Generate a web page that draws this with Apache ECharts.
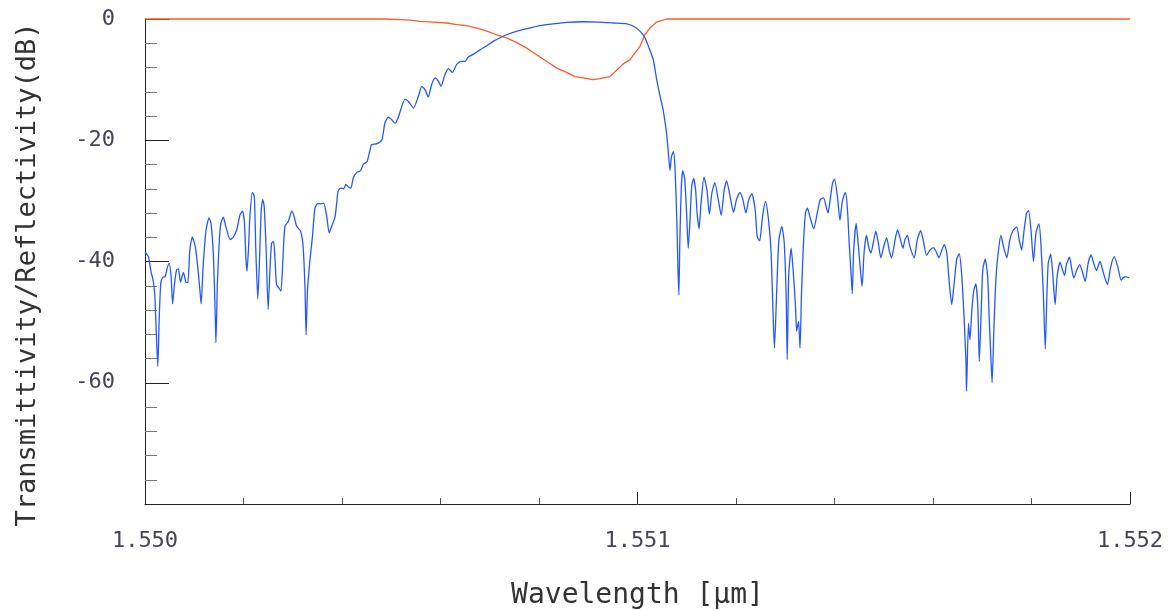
<!DOCTYPE html>
<html>
<head>
<meta charset="utf-8">
<script src="https://cdn.jsdelivr.net/npm/echarts@6/dist/echarts.min.js"></script>
<style>html,body{margin:0;padding:0;background:#fff}#c{width:1175px;height:610px}</style>
</head>
<body>
<div id="c"></div>
<script>
// Reflectivity (blue) — wavelength [µm] and level [dB]
const reflWavelength = [
1.550000,1.550007,1.550012,1.550017,1.550020,1.550024,1.550026,1.550029,1.550032,1.550036,
1.550041,1.550045,1.550049,1.550053,1.550056,1.550060,1.550064,1.550068,1.550072,1.550078,
1.550083,1.550087,1.550091,1.550096,1.550102,1.550107,1.550112,1.550114,1.550118,1.550124,
1.550130,1.550134,1.550139,1.550143,1.550144,1.550147,1.550151,1.550154,1.550159,1.550164,
1.550173,1.550179,1.550186,1.550193,1.550198,1.550202,1.550205,1.550207,1.550210,1.550213,
1.550218,1.550222,1.550225,1.550229,1.550232,1.550236,1.550239,1.550242,1.550246,1.550250,
1.550254,1.550257,1.550261,1.550264,1.550267,1.550272,1.550276,1.550280,1.550284,1.550291,
1.550298,1.550303,1.550308,1.550316,1.550321,1.550325,1.550327,1.550330,1.550335,1.550340,
1.550345,1.550351,1.550357,1.550363,1.550369,1.550374,1.550379,1.550386,1.550392,1.550397,
1.550403,1.550408,1.550413,1.550418,1.550423,1.550430,1.550438,1.550443,1.550451,1.550457,
1.550460,1.550470,1.550481,1.550487,1.550494,1.550501,1.550508,1.550514,1.550528,1.550535,
1.550545,1.550555,1.550562,1.550569,1.550575,1.550582,1.550589,1.550596,1.550601,1.550609,
1.550616,1.550624,1.550633,1.550641,1.550650,1.550656,1.550667,1.550680,1.550694,1.550707,
1.550721,1.550734,1.550755,1.550775,1.550802,1.550829,1.550856,1.550890,1.550924,1.550951,
1.550978,1.550992,1.551005,1.551015,1.551025,1.551032,1.551039,1.551046,1.551052,1.551059,
1.551063,1.551066,1.551069,1.551073,1.551076,1.551080,1.551082,1.551084,1.551086,1.551089,
1.551092,1.551096,1.551100,1.551103,1.551107,1.551110,1.551114,1.551118,1.551121,1.551125,
1.551129,1.551135,1.551141,1.551146,1.551151,1.551157,1.551164,1.551170,1.551176,1.551181,
1.551188,1.551195,1.551201,1.551208,1.551214,1.551220,1.551226,1.551232,1.551239,1.551243,
1.551248,1.551254,1.551260,1.551266,1.551271,1.551275,1.551278,1.551283,1.551287,1.551293,
1.551298,1.551302,1.551304,1.551307,1.551312,1.551316,1.551321,1.551323,1.551327,1.551330,
1.551333,1.551337,1.551341,1.551345,1.551351,1.551358,1.551365,1.551371,1.551378,1.551383,
1.551387,1.551392,1.551396,1.551400,1.551406,1.551411,1.551416,1.551422,1.551426,1.551430,
1.551434,1.551436,1.551439,1.551444,1.551448,1.551452,1.551456,1.551460,1.551465,1.551470,
1.551474,1.551479,1.551484,1.551489,1.551494,1.551501,1.551506,1.551511,1.551516,1.551523,
1.551528,1.551533,1.551539,1.551543,1.551548,1.551553,1.551562,1.551568,1.551575,1.551580,
1.551587,1.551594,1.551601,1.551606,1.551612,1.551618,1.551623,1.551628,1.551633,1.551638,
1.551643,1.551648,1.551653,1.551658,1.551663,1.551667,1.551668,1.551672,1.551675,1.551679,
1.551683,1.551687,1.551691,1.551694,1.551698,1.551701,1.551706,1.551711,1.551714,1.551718,
1.551720,1.551724,1.551728,1.551733,1.551738,1.551743,1.551750,1.551756,1.551763,1.551770,
1.551775,1.551780,1.551785,1.551790,1.551794,1.551799,1.551804,1.551809,1.551815,1.551819,
1.551824,1.551828,1.551831,1.551834,1.551839,1.551843,1.551848,1.551852,1.551858,1.551863,
1.551867,1.551871,1.551877,1.551882,1.551886,1.551892,1.551898,1.551904,1.551909,1.551915,
1.551921,1.551927,1.551932,1.551939,1.551946,1.551954,1.551961,1.551968,1.551975,1.551982,
1.551987,1.551991,1.551999,1.552000
];
const reflDb = [
-38.4,-39.2,-41.6,-43.3,-45.8,-54.0,-57.3,-49.1,-43.6,-42.6,
-42.5,-41.1,-40.3,-42.5,-47.0,-43.6,-41.4,-41.2,-43.4,-41.8,
-43.4,-43.5,-38.1,-36.0,-37.5,-40.8,-45.2,-47.0,-40.8,-34.8,
-32.8,-33.7,-39.2,-50.2,-53.4,-43.5,-36.4,-33.7,-32.7,-34.2,
-36.4,-36.0,-34.8,-32.3,-31.7,-33.7,-39.7,-41.6,-38.1,-32.6,
-28.6,-29.3,-38.1,-46.2,-40.8,-31.5,-29.8,-30.9,-38.1,-47.9,
-40.8,-37.0,-36.7,-39.7,-43.8,-44.4,-44.9,-39.7,-34.2,-33.4,
-31.7,-32.6,-34.2,-35.0,-37.5,-44.7,-52.1,-44.7,-39.7,-35.9,
-31.2,-30.4,-30.5,-30.4,-32.6,-35.3,-34.2,-32.6,-28.4,-27.9,
-28.0,-27.3,-27.7,-27.9,-26.2,-25.3,-25.0,-24.0,-23.5,-21.6,
-20.7,-20.6,-19.9,-17.2,-16.2,-16.6,-17.2,-16.3,-13.2,-13.6,
-14.7,-12.8,-11.1,-11.7,-12.9,-10.8,-9.7,-10.3,-11.1,-9.2,
-8.2,-8.8,-7.5,-7.0,-7.0,-6.3,-5.8,-5.1,-4.4,-3.7,
-3.1,-2.6,-2.0,-1.6,-1.1,-0.8,-0.55,-0.45,-0.5,-0.66,
-0.8,-1.2,-2.0,-3.1,-5.1,-6.7,-10.0,-12.8,-15.0,-18.8,
-22.4,-25.0,-22.7,-21.9,-24.3,-33.6,-40.8,-45.5,-36.4,-27.6,
-25.0,-26.5,-32.6,-37.8,-32.6,-27.6,-26.3,-28.2,-32.0,-34.6,
-30.4,-26.1,-28.2,-32.2,-28.7,-27.0,-29.8,-32.4,-28.2,-26.7,
-29.3,-31.9,-29.8,-28.6,-29.8,-32.0,-29.8,-28.8,-31.5,-35.9,
-36.6,-32.5,-30.1,-33.1,-38.1,-47.9,-54.3,-44.1,-36.5,-34.2,
-37.0,-46.3,-56.2,-42.5,-37.8,-41.4,-47.7,-51.5,-49.9,-54.3,
-45.3,-37.0,-32.0,-31.2,-32.9,-34.6,-32.0,-29.8,-29.5,-31.0,
-32.0,-29.3,-27.1,-26.4,-29.3,-33.2,-30.0,-28.6,-31.0,-37.2,
-42.5,-45.3,-38.1,-33.7,-37.0,-40.8,-44.1,-38.6,-35.7,-37.8,
-38.6,-36.8,-35.0,-36.9,-39.4,-37.2,-36.1,-38.1,-39.4,-36.4,
-34.8,-36.1,-37.8,-36.4,-35.7,-37.5,-39.4,-36.4,-34.9,-36.4,
-39.0,-38.1,-37.7,-38.3,-39.4,-38.1,-37.2,-38.6,-43.5,-47.1,
-43.5,-39.7,-38.7,-41.9,-49.1,-56.7,-61.4,-50.2,-52.9,-47.9,
-44.7,-43.7,-47.4,-56.5,-47.9,-41.4,-39.6,-42.5,-49.1,-56.7,
-60.0,-50.2,-42.5,-38.1,-35.7,-37.5,-39.4,-36.4,-34.8,-34.3,
-36.4,-38.1,-34.8,-32.0,-31.6,-34.8,-40.0,-35.3,-33.8,-36.9,
-45.2,-54.4,-46.3,-40.3,-38.8,-41.9,-47.1,-42.5,-40.1,-41.4,
-42.3,-40.5,-39.3,-41.4,-42.7,-41.4,-40.5,-41.9,-43.3,-40.3,
-38.9,-40.5,-41.5,-40.0,-41.9,-43.8,-40.8,-39.2,-40.8,-43.1,
-42.6,-42.5,-42.7,-42.7
];
// Transmittivity (red)
const transWavelength = [
1.550000,1.550487,1.550518,1.550538,1.550558,1.550585,1.550613,1.550633,1.550653,1.550674,
1.550694,1.550714,1.550734,1.550755,1.550775,1.550795,1.550816,1.550836,1.550856,1.550873,
1.550890,1.550910,1.550924,1.550944,1.550958,1.550971,1.550985,1.550995,1.551005,1.551015,
1.551025,1.551039,1.551059,1.552000
];
const transDb = [
0,0,-0.1,-0.2,-0.4,-0.5,-0.66,-0.94,-1.1,-1.5,
-2.0,-2.6,-3.1,-3.9,-4.8,-5.9,-7.0,-8.1,-8.8,-9.5,
-9.7,-10.0,-9.85,-9.5,-8.4,-7.4,-6.7,-5.6,-4.5,-2.6,
-1.5,-0.5,0,0
];
const xTicks = {min: 1.550, max: 1.552, interval: 0.001};
const yTicks = {min: -80, max: 0, interval: 20};
const xTitle = 'Wavelength [µm]';
const yTitle = 'Transmittivity/Reflectivity(dB)';

const mono = 'DejaVu Sans Mono';
const chart = echarts.init(document.getElementById('c'), null, {renderer: 'canvas'});
chart.setOption({
  animation: false,
  backgroundColor: '#ffffff',
  grid: {left: 145, right: 45, top: 19, bottom: 106, containLabel: false, outerBoundsMode: 'none'},
  xAxis: {
    type: 'value', min: xTicks.min, max: xTicks.max, interval: xTicks.interval,
    axisLine: {show: true, onZero: false, lineStyle: {color: '#222', width: 1}},
    axisTick: {show: true, inside: true, length: 12, lineStyle: {color: '#222'}},
    minorTick: {show: true, splitNumber: 5, length: 6, lineStyle: {color: '#555'}},
    splitLine: {show: false},
    axisLabel: {margin: 26, fontFamily: mono, fontSize: 22, color: '#445',
      formatter: v => v.toFixed(3)},
    name: xTitle, nameLocation: 'middle', nameGap: 78,
    nameTextStyle: {fontFamily: mono, fontSize: 28, color: '#333'}
  },
  yAxis: {
    type: 'value', min: yTicks.min, max: yTicks.max, interval: yTicks.interval,
    axisLine: {show: true, onZero: false, lineStyle: {color: '#222', width: 1}},
    axisTick: {show: true, inside: true, length: 24, lineStyle: {color: '#222'}},
    minorTick: {show: true, splitNumber: 5, length: 12, lineStyle: {color: '#777'}},
    splitLine: {show: false},
    axisLabel: {margin: 30, fontFamily: mono, fontSize: 22, color: '#445', padding: [6, 0, 0, 0],
      showMinLabel: false},
    name: yTitle, nameLocation: 'middle', nameGap: 104,
    nameTextStyle: {fontFamily: mono, fontSize: 27, color: '#333', padding: [0, 26, 0, 0]}
  },
  series: [
    {
      name: 'Transmittivity', type: 'line', showSymbol: false, symbol: 'none', clip: false,
      data: transWavelength.map((x, i) => [x, transDb[i]]),
      lineStyle: {color: '#ff5a28', width: 1.3}, z: 2
    },
    {
      name: 'Reflectivity', type: 'line', showSymbol: false, symbol: 'none', smooth: 0.2,
      data: reflWavelength.map((x, i) => [x, reflDb[i]]),
      lineStyle: {color: '#2458ff', width: 1.3}, z: 3
    }
  ]
});
</script>
</body>
</html>
